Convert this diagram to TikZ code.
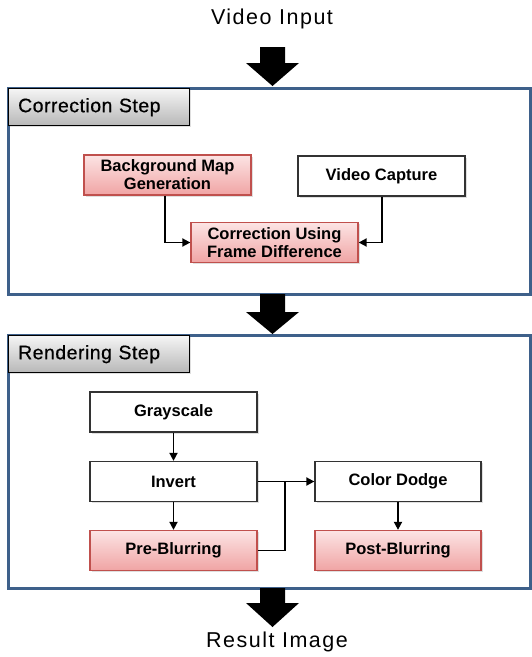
\documentclass[tikz,border=0pt]{standalone}
\usepackage{fontspec}
\setmainfont{Liberation Sans}
\usetikzlibrary{arrows.meta,shadows,positioning}
\definecolor{stepblue}{RGB}{62,96,138}
\definecolor{pinktop}{RGB}{252,228,228}
\definecolor{pinkbot}{RGB}{240,164,164}
\definecolor{pinkline}{RGB}{192,80,77}
\tikzset{
  procbox/.style={draw=black!80, line width=1.3pt, fill=white, minimum width=167pt, minimum height=40pt,
     font=\fontsize{16.5}{18}\selectfont\bfseries, align=center, inner sep=0pt,
     drop shadow={opacity=0.25, shadow xshift=1.5pt, shadow yshift=-1.5pt}},
  pinkbox/.style={procbox, draw=pinkline, top color=pinktop, bottom color=pinkbot},
  steptab/.style={draw=black, line width=1.3pt, top color=black!4, bottom color=black!28,
     font=\fontsize{19.5}{21}\selectfont\addfontfeatures{LetterSpace=2.5,FakeBold=0.6}, anchor=north west, minimum width=181pt, minimum height=37pt,
     inner sep=0pt, text width=176pt, align=left,
     drop shadow={opacity=0.25, shadow xshift=1.5pt, shadow yshift=-1.5pt}},
  stepframe/.style={draw=stepblue, line width=3pt},
  conn/.style={line width=1.8pt, -{Triangle[length=8pt,width=8pt]}},
  bigarrow/.style={fill=black},
  label/.style={font=\fontsize{21.5}{23}\selectfont\addfontfeatures{LetterSpace=7}}
}
\begin{document}
\begin{tikzpicture}[x=1pt,y=-1pt]
\useasboundingbox (0,0) rectangle (531,657);
% frames
\draw[stepframe] (8,88) rectangle (530,294);
\draw[stepframe] (8,335) rectangle (530,588);
% texts
\node[label] (vin) at (272,19) {Video Input};
\node[label] (res) at (277,642) {Result Image};
% big arrows
\foreach \t/\h/\b in {47/63/86, 294/312/334, 588/603/627}{
  \fill[bigarrow] (260,\t) -- (285,\t) -- (285,\h) -- (299,\h) -- (272.5,\b) -- (246,\h) -- (260,\h) -- cycle;
}
% tabs
\node[steptab] (tab1) at (8,88) {\hspace{7pt}Correction Step};
\node[steptab] (tab2) at (8,335) {\hspace{7pt}Rendering Step};
% correction step
\node[pinkbox] (bmg) at (167.5,175) {Background Map\\Generation};
\node[procbox] (vc) at (381.5,176) {Video Capture};
\node[pinkbox] (cufd) at (274.5,242.5) {Correction Using\\Frame Difference};
\draw[conn] (bmg.south -| 165,0) |- (cufd.west);
\draw[conn] (vc.south -| 382,0) |- (cufd.east);
% rendering step
\node[procbox] (gray) at (173.5,412) {Grayscale};
\node[procbox] (inv) at (173.5,481.5) {Invert};
\node[pinkbox] (pre) at (173.5,550.5) {Pre-Blurring};
\node[procbox, minimum width=166pt] (cd) at (398,481.5) {Color Dodge};
\node[pinkbox, minimum width=166pt] (post) at (398,550.5) {Post-Blurring};
\draw[conn] (gray) -- (inv);
\draw[conn] (inv) -- (pre);
\draw[conn] (cd) -- (post);
\draw[line width=1.8pt] (inv.east) -- (cd.west);
\coordinate (jn) at (285,481.5);
\draw[conn] (pre.east) -| (jn) -- (cd.west);
\end{tikzpicture}
\end{document}
